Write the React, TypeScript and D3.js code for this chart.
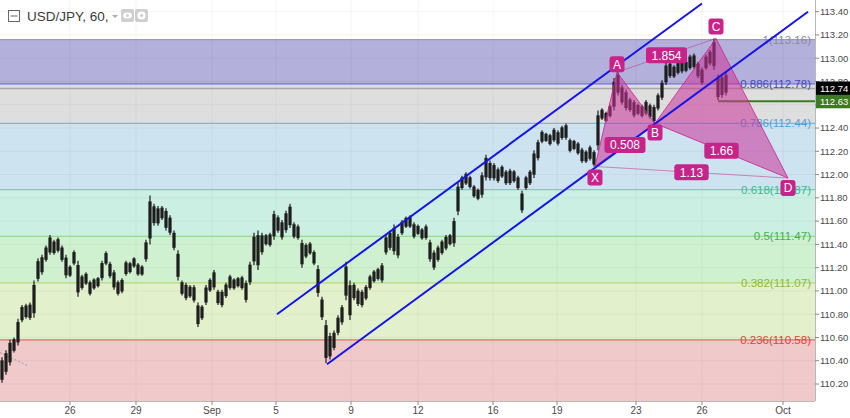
import React from "react";
import * as d3 from "d3";

// ---- data (4-hour bars) ----
const hi = [
  110.43, 110.49, 110.58, 110.6, 110.76, 110.88, 110.89, 110.9, 111.09, 111.28,
  111.31, 111.39, 111.48, 111.44, 111.46, 111.39, 111.31, 111.22, 111.35, 111.26,
  111.14, 111.16, 111.09, 111.11, 111.12, 111.26, 111.34, 111.25, 111.18, 111.09,
  111.11, 111.26, 111.25, 111.29, 111.24, 111.22, 111.44, 111.82, 111.75, 111.73,
  111.73, 111.71, 111.65, 111.52, 111.35, 111.09, 111.07, 111.05, 111.05, 110.9,
  110.88, 111.05, 111.11, 111.18, 111.01, 111.01, 111.07, 111.14, 111.11, 111.12,
  111.13, 111.09, 111.25, 111.5, 111.52, 111.5, 111.49, 111.5, 111.69, 111.65,
  111.61, 111.69, 111.75, 111.59, 111.57, 111.44, 111.41, 111.42, 111.35, 111.22,
  110.95, 110.75, 110.64, 110.66, 110.79, 110.88, 111.25, 111.09, 111.07, 111.02,
  111.01, 111.05, 111.14, 111.18, 111.2, 111.24, 111.48, 111.52, 111.57, 111.49,
  111.61, 111.64, 111.65, 111.59, 111.57, 111.54, 111.57, 111.44, 111.35, 111.39,
  111.44, 111.48, 111.49, 111.63, 111.93, 111.99, 112.02, 111.99, 111.91, 111.88,
  112.02, 112.17, 112.12, 112.1, 112.06, 112.08, 112.04, 112.05, 112.04, 111.99,
  111.86, 111.99, 112.04, 112.21, 112.3, 112.38, 112.36, 112.35, 112.4, 112.38,
  112.42, 112.44, 112.31, 112.3, 112.28, 112.23, 112.21, 112.25, 112.21, 112.55,
  112.57, 112.54, 112.6, 112.83, 112.88, 112.77, 112.73, 112.66, 112.64, 112.61,
  112.6, 112.64, 112.61, 112.6, 112.7, 112.81, 112.96, 112.97, 112.94, 112.98,
  113.01, 112.98, 113.03, 113.04, 112.97, 112.92, 113.03, 113.07, 113.17, 112.86,
  112.86, 112.88,
];
const lo = [
  110.21, 110.28, 110.36, 110.47, 110.53, 110.73, 110.76, 110.75, 110.77, 111.08,
  111.14, 111.25, 111.31, 111.31, 111.33, 111.25, 111.11, 111.12, 111.22, 110.95,
  111.01, 111.05, 110.96, 111.01, 111.03, 111.09, 111.22, 111.11, 111.01, 110.96,
  110.98, 111.13, 111.15, 111.2, 111.13, 111.13, 111.25, 111.4, 111.56, 111.56,
  111.61, 111.52, 111.48, 111.35, 111.09, 110.96, 110.92, 110.94, 110.9, 110.69,
  110.75, 110.88, 110.99, 111.01, 110.88, 110.86, 110.94, 111.01, 111.01, 111.03,
  111.01, 110.9, 111.05, 111.22, 111.18, 111.31, 111.39, 111.38, 111.44, 111.5,
  111.44, 111.5, 111.54, 111.45, 111.44, 111.2, 111.28, 111.31, 111.22, 110.95,
  110.75, 110.38, 110.41, 110.49, 110.62, 110.71, 110.92, 110.75, 110.92, 110.87,
  110.86, 110.92, 111.01, 111.07, 111.09, 111.07, 111.31, 111.35, 111.31, 111.28,
  111.48, 111.54, 111.54, 111.45, 111.48, 111.44, 111.44, 111.25, 111.18, 111.25,
  111.31, 111.35, 111.39, 111.38, 111.65, 111.87, 111.91, 111.88, 111.8, 111.78,
  111.8, 111.95, 111.95, 111.95, 111.93, 111.97, 111.91, 111.91, 111.93, 111.87,
  111.67, 111.87, 111.91, 111.97, 112.12, 112.27, 112.28, 112.25, 112.28, 112.25,
  112.3, 112.3, 112.19, 112.21, 112.17, 112.1, 112.1, 112.12, 112.07, 112.21,
  112.47, 112.45, 112.49, 112.55, 112.68, 112.6, 112.55, 112.54, 112.49, 112.51,
  112.49, 112.51, 112.48, 112.44, 112.55, 112.64, 112.77, 112.83, 112.83, 112.86,
  112.87, 112.88, 112.9, 112.91, 112.83, 112.77, 112.9, 112.94, 112.9, 112.64,
  112.66, 112.68,
];

const dateTickIdx = [17, 33.5, 52.5, 68.5, 87.25, 104, 122.75, 138.75, 158.5, 175, 195.25];
const dateTickLabels = ["26", "29", "Sep", "5", "9", "12", "16", "19", "23", "26", "Oct"];
const priceTicks = [110.2, 110.4, 110.6, 110.8, 111.0, 111.2, 111.4, 111.6, 111.8, 112.0, 112.2, 112.4, 112.6, 112.8, 113.0, 113.2, 113.4];

const fibRatios = ["1", "0.886", "0.786", "0.618", "0.5", "0.382", "0.236", "0"];
const fibPrices = [113.16, 112.78, 112.44, 111.87, 111.47, 111.07, 110.58, 109.78];

const patternNames = ["X", "A", "B", "C", "D"];
const patternIdx = [148.25, 153.75, 163.25, 178.5, 196.5];
const patternPrice = [112.07, 112.88, 112.44, 113.17, 111.97];
const ratioLabels = ["0.508", "1.854", "1.66", "1.13"];

const channelLowerIdx = [81.25, 201.5];
const channelLowerPrice = [110.37, 113.4];
const channelUpperIdx = [68.75, 175];
const channelUpperPrice = [110.8, 113.47];

const lastPrice = 112.74;
const rayPrice = 112.63;
const rayStartIdx = 179;

const oldDashIdx = [-0.5, 6.25];
const oldDashPrice = [110.47, 110.36];

// ---- styles ----
const zoneFill = ["#b3b1dc", "#dedede", "#cde3f0", "#cbf0e3", "#cff1cf", "#e3f0cc", "#f0c9cb"];
const lineColor = ["#9a98c4", "#6b6be0", "#79b6e0", "#71d3bb", "#7fd67a", "#b5d878", "#e0705f"];
const labelColor = ["#8b8b9c", "#4a4ab5", "#4f9fd6", "#3cb88e", "#45b04a", "#8dba38", "#d8463b"];
const FONT = "'Liberation Sans', Arial, sans-serif";
const PINK = "#c8238b";

export default function App() {
  const W = 850;
  const H = 418;
  const plotR = 815;
  const plotB = 401;
  const x = d3.scaleLinear().domain([0, 203.25]).range([2, 815]);
  const y = d3.scaleLinear().domain([113.4, 110.2]).range([11.7, 384]);

  const pts = patternIdx.map((d, i) => [x(d), y(patternPrice[i])] as [number, number]);
  const [X, A, B, C, D] = pts;
  const poly = (arr: [number, number][]) => arr.map((p) => p.join(",")).join(" ");
  const mid = (p: [number, number], q: [number, number]) => [(p[0] + q[0]) / 2, (p[1] + q[1]) / 2];
  const ratioPos = [mid(X, B), mid(A, C), mid(B, D), mid(X, D)];
  const labelOffsets = [11, -8, 9, -12, 10];

  return (
    <div style={{ position: "absolute", left: 0, top: 0, width: W, height: H }}>
      <svg width={W} height={H} style={{ display: "block", fontFamily: FONT }}>
        <rect x={0} y={0} width={W} height={H} fill="#ffffff" />
        <defs>
          <clipPath id="plot">
            <rect x={0} y={0} width={plotR} height={plotB} />
          </clipPath>
        </defs>
        <g clipPath="url(#plot)">
          {zoneFill.map((c, k) => {
            const t = y(fibPrices[k]);
            const b = Math.min(y(fibPrices[k + 1]), plotB);
            return <rect key={"z" + k} x={0} y={t} width={plotR} height={b - t} fill={c} />;
          })}
          {priceTicks.map((p, i) => (
            <line key={"gy" + i} x1={0} x2={plotR} y1={y(p)} y2={y(p)} stroke="rgba(0,0,0,0.045)" />
          ))}
          {dateTickIdx.map((d, i) => (
            <line key={"gx" + i} x1={x(d)} x2={x(d)} y1={0} y2={plotB} stroke="rgba(0,0,0,0.045)" />
          ))}
          {fibPrices.slice(0, 7).map((p, k) => (
            <line key={"fl" + k} x1={0} x2={plotR} y1={y(p)} y2={y(p)} stroke={lineColor[k]} strokeWidth={1.2} />
          ))}
          <line x1={0} x2={plotR} y1={y(lastPrice)} y2={y(lastPrice)} stroke="#a9a9a9" strokeWidth={1.6} />
          {fibPrices.slice(0, 7).map((p, k) => (
            <text key={"ft" + k} x={811} y={y(p)} dy="0.35em" textAnchor="end" fontSize={11.5} fill={labelColor[k]}>
              {fibRatios[k]}({p.toFixed(2)})
            </text>
          ))}
          <line
            x1={x(oldDashIdx[0])}
            x2={x(oldDashIdx[1])}
            y1={y(oldDashPrice[0])}
            y2={y(oldDashPrice[1])}
            stroke="#9a9a9a"
            strokeDasharray="2,2"
          />
          {hi.map((h, i) => {
            const yt = y(h);
            const yb = y(lo[i]);
            const cx = x(i);
            const r = yb - yt;
            return (
              <g key={"c" + i}>
                <line x1={cx} x2={cx} y1={yt} y2={yb} stroke="#1d1d1d" strokeWidth={1.2} />
                <rect x={cx - 1.6} y={yt + r * 0.12} width={3.2} height={Math.max(1, r * 0.76)} fill="#1d1d1d" />
              </g>
            );
          })}
          <line x1={x(rayStartIdx)} x2={plotR} y1={y(rayPrice)} y2={y(rayPrice)} stroke="#3d7a22" strokeWidth={2} />
          <polygon points={poly([X, A, B])} fill="rgba(204,51,153,0.55)" stroke="rgba(200,35,139,0.8)" strokeWidth={1} />
          <polygon points={poly([B, C, D])} fill="rgba(204,51,153,0.55)" stroke="rgba(200,35,139,0.8)" strokeWidth={1} />
          <line x1={X[0]} y1={X[1]} x2={B[0]} y2={B[1]} stroke="rgba(200,35,139,0.6)" strokeWidth={1} />
          <line x1={A[0]} y1={A[1]} x2={C[0]} y2={C[1]} stroke="rgba(200,35,139,0.5)" strokeWidth={1} />
          <line x1={X[0]} y1={X[1]} x2={D[0]} y2={D[1]} stroke="rgba(200,35,139,0.5)" strokeWidth={1} />
          <line
            x1={x(channelUpperIdx[0])}
            y1={y(channelUpperPrice[0])}
            x2={x(channelUpperIdx[1])}
            y2={y(channelUpperPrice[1])}
            stroke="#1515e8"
            strokeWidth={2}
          />
          <line
            x1={x(channelLowerIdx[0])}
            y1={y(channelLowerPrice[0])}
            x2={x(channelLowerIdx[1])}
            y2={y(channelLowerPrice[1])}
            stroke="#1515e8"
            strokeWidth={2}
          />
          {ratioLabels.map((t, i) => {
            const w = t.length * 6.6 + 8;
            const [cx, cy] = ratioPos[i];
            return (
              <g key={"rl" + i}>
                <rect x={cx - w / 2} y={cy - 8} width={w} height={16} rx={3} fill={PINK} />
                <text x={cx} y={cy} dy="0.36em" textAnchor="middle" fontSize={12} fill="#fff">
                  {t}
                </text>
              </g>
            );
          })}
          {patternNames.map((t, i) => {
            const cx = pts[i][0];
            const cy = pts[i][1] + labelOffsets[i];
            return (
              <g key={"pl" + i}>
                <rect x={cx - 7.5} y={cy - 8} width={15} height={16} rx={3} fill={PINK} />
                <text x={cx} y={cy} dy="0.36em" textAnchor="middle" fontSize={12} fill="#fff">
                  {t}
                </text>
              </g>
            );
          })}
        </g>

        <line x1={plotR + 0.5} x2={plotR + 0.5} y1={0} y2={plotB} stroke="#b8b8b8" />
        <line x1={0} x2={plotR} y1={plotB + 0.5} y2={plotB + 0.5} stroke="#b8b8b8" />
        {priceTicks.map((p, i) => (
          <g key={"yt" + i}>
            <line x1={plotR} x2={plotR + 4} y1={y(p)} y2={y(p)} stroke="#8a8a8a" />
            <text x={820} y={y(p)} dy="0.35em" fontSize={9.5} fill="#4a4a4a">
              {p.toFixed(2)}
            </text>
          </g>
        ))}
        {dateTickIdx.map((d, i) => (
          <g key={"xt" + i}>
            <line x1={x(d)} x2={x(d)} y1={plotB} y2={plotB + 4} stroke="#8a8a8a" />
            <text x={x(d)} y={414} textAnchor="middle" fontSize={10} fill="#4a4a4a">
              {dateTickLabels[i]}
            </text>
          </g>
        ))}
        <rect x={plotR + 1} y={y(lastPrice) - 7} width={35} height={14} fill="#000" />
        <text x={820} y={y(lastPrice)} dy="0.35em" fontSize={9.5} fill="#fff">
          {lastPrice.toFixed(2)}
        </text>
        <rect x={plotR + 1} y={y(rayPrice) - 6.5} width={35} height={13.5} fill="#3d7a22" />
        <text x={820} y={y(rayPrice)} dy="0.35em" fontSize={9.5} fill="#fff">
          {rayPrice.toFixed(2)}
        </text>

        <rect x={8.5} y={10.5} width={11} height={11} fill="none" stroke="#666" strokeWidth={1} />
        <line x1={10.5} x2={17.5} y1={16} y2={16} stroke="#666" />
        <text x={27} y={21} fontSize={13.5} fill="#3a3a3a">
          USD/JPY, 60,
        </text>
        <path d="M112,15 l6,0 l-3,3 z" fill="#aaa" />
        <rect x={121} y={9} width={13} height={13} rx={2} fill="#cfcfcf" />
        <ellipse cx={127.5} cy={15.5} rx={4.5} ry={3} fill="#fff" />
        <circle cx={127.5} cy={15.5} r={1.5} fill="#cfcfcf" />
        <rect x={135} y={9} width={13} height={13} rx={2} fill="#cfcfcf" />
        <circle cx={141.5} cy={15.5} r={4} fill="#fff" />
        <circle cx={141.5} cy={15.5} r={1.6} fill="#cfcfcf" />
      </svg>
    </div>
  );
}
